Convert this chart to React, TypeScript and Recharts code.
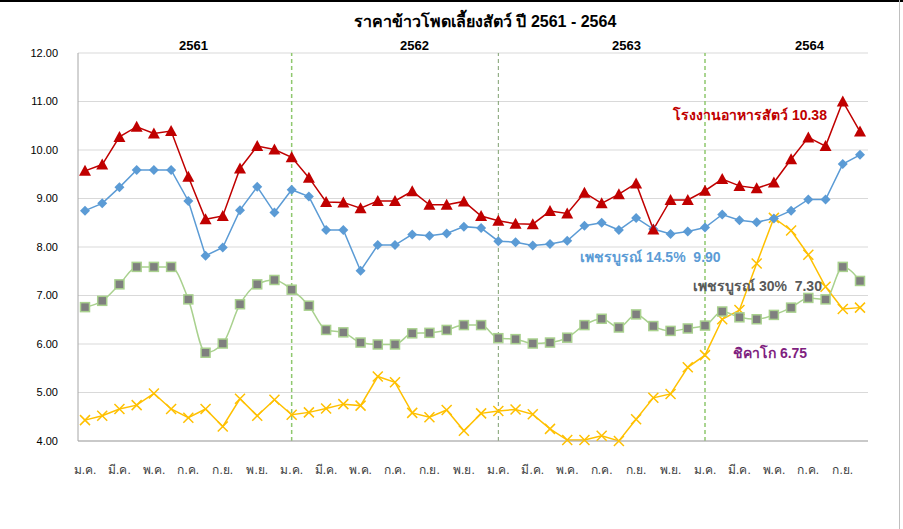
import { LineChart, Line, XAxis, YAxis, CartesianGrid, ReferenceLine } from "recharts";

const months = ["ม.ค.", "ก.พ.", "มี.ค.", "เม.ย.", "พ.ค.", "มิ.ย.", "ก.ค.", "ส.ค.", "ก.ย.", "ต.ค.", "พ.ย.", "ธ.ค."];
const years = ["2561", "2562", "2563", "2564"];
const yTicks = [4, 5, 6, 7, 8, 9, 10, 11, 12];

// โรงงานอาหารสัตว์
const feedMill = [
  9.57, 9.7, 10.27, 10.48, 10.34, 10.39, 9.45, 8.57, 8.64, 9.62, 10.08, 10.01,
  9.85, 9.43, 8.93, 8.92, 8.8, 8.95, 8.95, 9.15, 8.87, 8.87, 8.94, 8.64,
  8.54, 8.48, 8.47, 8.74, 8.69, 9.12, 8.9, 9.09, 9.31, 8.36, 8.97, 8.97,
  9.16, 9.4, 9.26, 9.21, 9.33, 9.81, 10.26, 10.08, 11.0, 10.38,
];
// เพชรบูรณ์ 14.5%
const petch145 = [
  8.75, 8.9, 9.23, 9.59, 9.59, 9.59, 8.95, 7.82, 7.99, 8.76, 9.24, 8.71,
  9.18, 9.04, 8.35, 8.35, 7.51, 8.04, 8.04, 8.26, 8.23, 8.28, 8.42, 8.39,
  8.12, 8.1, 8.03, 8.06, 8.13, 8.44, 8.5, 8.35, 8.6, 8.37, 8.27, 8.32,
  8.4, 8.67, 8.55, 8.51, 8.59, 8.75, 8.98, 8.98, 9.71, 9.9,
];
// เพชรบูรณ์ 30%
const petch30 = [
  6.76, 6.89, 7.23, 7.59, 7.59, 7.59, 6.92, 5.82, 6.01, 6.82, 7.23, 7.32,
  7.12, 6.79, 6.29, 6.24, 6.03, 5.99, 5.99, 6.22, 6.23, 6.29, 6.39, 6.39,
  6.12, 6.1, 6.01, 6.03, 6.13, 6.39, 6.52, 6.34, 6.61, 6.37, 6.27, 6.32,
  6.38, 6.67, 6.55, 6.51, 6.6, 6.75, 6.95, 6.92, 7.59, 7.3,
];
// ชิคาโก
const chicago = [
  4.43, 4.52, 4.66, 4.74, 4.98, 4.66, 4.48, 4.66, 4.3, 4.87, 4.52, 4.85,
  4.54, 4.59, 4.67, 4.76, 4.73, 5.33, 5.21, 4.58, 4.49, 4.64, 4.21, 4.57,
  4.62, 4.65, 4.55, 4.25, 4.02, 4.02, 4.11, 4.0, 4.45, 4.89, 4.97, 5.52,
  5.77, 6.51, 6.7, 7.66, 8.6, 8.34, 7.84, 7.18, 6.72, 6.75,
];

const data = feedMill.map((v, i) => ({
  key: `${years[Math.floor(i / 12)]}-${i % 12}`,
  feedMill: v,
  petch145: petch145[i],
  petch30: petch30[i],
  chicago: chicago[i],
}));

const font = '"Liberation Sans", Arial, sans-serif';

const Triangle = (p: any) => {
  const { cx, cy } = p;
  if (cx == null || cy == null) return null;
  return <path key={p.index} d={`M${cx},${cy - 6} L${cx + 6},${cy + 5} L${cx - 6},${cy + 5} Z`} fill="#C00000" />;
};
const Diamond = (p: any) => {
  const { cx, cy } = p;
  if (cx == null || cy == null) return null;
  return <path key={p.index} d={`M${cx},${cy - 5} L${cx + 5},${cy} L${cx},${cy + 5} L${cx - 5},${cy} Z`} fill="#5B9BD5" />;
};
const Square = (p: any) => {
  const { cx, cy } = p;
  if (cx == null || cy == null) return null;
  return <rect key={p.index} x={cx - 4.5} y={cy - 4.5} width={9} height={9} fill="#7F7F7F" stroke="#A9D18E" strokeWidth={1.5} />;
};
const Cross = (p: any) => {
  const { cx, cy } = p;
  if (cx == null || cy == null) return null;
  return (
    <path key={p.index} d={`M${cx - 5},${cy - 5} L${cx + 5},${cy + 5} M${cx + 5},${cy - 5} L${cx - 5},${cy + 5}`} stroke="#FFC000" strokeWidth={1.5} />
  );
};

const abs = (left: number, top: number, extra: any = {}) => ({
  position: "absolute" as const,
  left,
  top,
  whiteSpace: "nowrap" as const,
  fontFamily: font,
  fontWeight: "bold" as const,
  ...extra,
});

export default function App() {
  return (
    <div style={{ position: "fixed", left: 0, top: 0, width: 903, height: 529, background: "#fff", overflow: "hidden" }}>
      <div style={{ position: "absolute", left: 0, top: 0, width: 903, height: 2, background: "#000" }} />
      <div style={{ position: "absolute", left: 899, top: 0, width: 1, height: 529, background: "#BFBFBF" }} />
      <LineChart width={903} height={529} data={data} margin={{ top: 53, right: 35, bottom: 58, left: 18 }}>
        <CartesianGrid vertical={false} stroke="#D9D9D9" />
        <XAxis
          dataKey="key"
          tickFormatter={(v: string) => months[Number(String(v).split("-")[1])]}
          interval={1}
          padding={{ left: 7, right: 8 }}
          tickLine={false}
          axisLine={{ stroke: "#A6A6A6" }}
          tick={{ fontSize: 12, fill: "#404040", fontFamily: font }}
          tickMargin={18}
          height={30}
        />
        <YAxis
          domain={[4, 12]}
          ticks={yTicks}
          tickFormatter={(v: number) => v.toFixed(2)}
          tickLine={false}
          axisLine={{ stroke: "#A6A6A6" }}
          tick={{ fontSize: 11, fill: "#000", fontFamily: font }}
          tickMargin={14}
          width={60}
        />
        <ReferenceLine x="2562-0" stroke="#8FC86E" strokeDasharray="4 3" strokeWidth={1.5} />
        <ReferenceLine x="2563-0" stroke="#7F9F6F" strokeDasharray="4 3" strokeWidth={1} />
        <ReferenceLine x="2564-0" stroke="#8FC86E" strokeDasharray="4 3" strokeWidth={1.5} />
        <Line dataKey="chicago" stroke="#FFC000" strokeWidth={1.5} dot={Cross} isAnimationActive={false} />
        <Line type="monotone" dataKey="petch30" stroke="#A9D18E" strokeWidth={1.5} dot={Square} isAnimationActive={false} />
        <Line dataKey="petch145" stroke="#5B9BD5" strokeWidth={1.5} dot={Diamond} isAnimationActive={false} />
        <Line dataKey="feedMill" stroke="#C00000" strokeWidth={1.5} dot={Triangle} isAnimationActive={false} />
      </LineChart>

      <div style={abs(354, 9, { fontSize: 16, color: "#000" })}>ราคาข้าวโพดเลี้ยงสัตว์ ปี 2561 - 2564</div>

      <div style={abs(179, 38, { fontSize: 13, color: "#000" })}>{years[0]}</div>
      <div style={abs(400, 38, { fontSize: 13, color: "#000" })}>{years[1]}</div>
      <div style={abs(612, 38, { fontSize: 13, color: "#000" })}>{years[2]}</div>
      <div style={abs(795, 38, { fontSize: 13, color: "#000" })}>{years[3]}</div>

      <div style={abs(673, 104, { fontSize: 14, color: "#C00000" })}>โรงงานอาหารสัตว์ 10.38</div>
      <div style={abs(580, 246, { fontSize: 14, color: "#5B9BD5" })}>เพชรบูรณ์ 14.5%&nbsp;&nbsp;9.90</div>
      <div style={abs(693, 275, { fontSize: 14, color: "#595959" })}>เพชรบูรณ์ 30%&nbsp;&nbsp;7.30</div>
      <div style={abs(733, 342, { fontSize: 14, color: "#7F1F7F" })}>ชิคาโก 6.75</div>
    </div>
  );
}
